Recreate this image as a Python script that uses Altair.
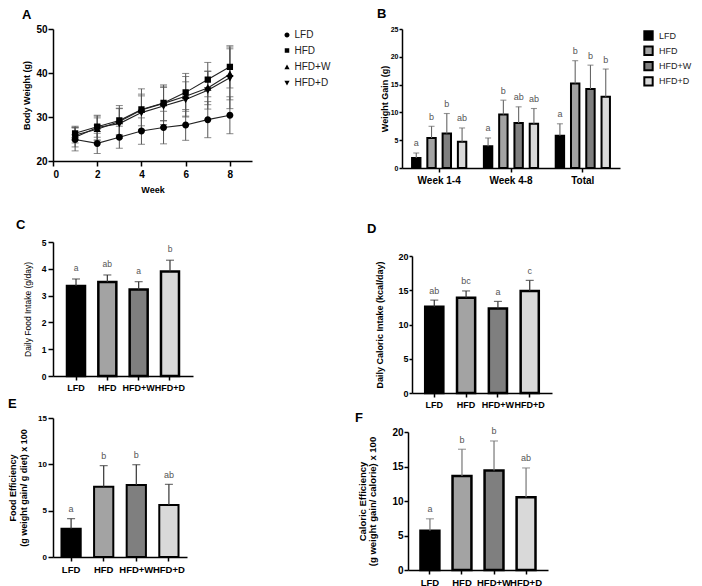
import altair as alt
import pandas as pd

FONT = "Liberation Sans"
groups = ["LFD", "HFD", "HFD+W", "HFD+D"]
fills = ["#000000", "#a3a3a3", "#7f7f7f", "#d9d9d9"]
marker_paths = [
    "M-2.2,0H2.2M-1,0A1,1,0,1,0,1,0A1,1,0,1,0,-1,0Z",
    "M-2.2,0H2.2M-0.9,-0.9H0.9V0.9H-0.9Z",
    "M-2.2,0H2.2M0,-1.1L1.05,0.8H-1.05Z",
    "M-2.2,0H2.2M0,1.1L1.05,-0.8H-1.05Z",
]

# ---------------- A: body weight by week ----------------
weeks = [1, 2, 3, 4, 5, 6, 7, 8]
bw_lfd = [24.9, 24.0, 25.4, 26.8, 27.6, 28.2, 29.4, 30.4]
bw_lfd_sd = [2.6, 2.3, 2.5, 3.0, 3.7, 3.5, 4.1, 4.2]
bw_hfd = [26.3, 27.8, 29.2, 31.7, 33.2, 35.6, 38.5, 41.4]
bw_hfd_sd = [1.6, 2.4, 3.4, 4.7, 4.1, 4.3, 3.9, 4.8]
bw_hfdw = [25.9, 27.2, 29.0, 31.6, 33.1, 34.7, 36.6, 39.7]
bw_hfdw_sd = [1.8, 2.6, 3.0, 3.6, 3.9, 4.5, 3.8, 5.8]
bw_hfdd = [25.4, 27.6, 28.5, 31.0, 32.5, 34.0, 36.1, 38.9]
bw_hfdd_sd = [2.2, 2.8, 3.4, 3.8, 4.2, 4.0, 4.3, 7.0]

# ---------------- B: weight gain ----------------
periods = ["Week 1-4", "Week 4-8", "Total"]
gain_lfd = [1.8, 3.9, 5.8]
gain_lfd_sd = [0.9, 1.5, 2.15]
gain_hfd = [5.4, 9.6, 15.2]
gain_hfd_sd = [2.1, 2.6, 4.1]
gain_hfdw = [6.2, 8.1, 14.2]
gain_hfdw_sd = [3.6, 2.9, 4.3]
gain_hfdd = [4.7, 7.95, 12.8]
gain_hfdd_sd = [2.5, 2.75, 5.0]
gain_let_lfd = ["a", "a", "a"]
gain_let_hfd = ["b", "b", "b"]
gain_let_hfdw = ["b", "ab", "b"]
gain_let_hfdd = ["ab", "ab", "b"]

# ---------------- C-F ----------------
food_intake = [3.36, 3.51, 3.23, 3.90]
food_intake_sd = [0.26, 0.26, 0.29, 0.42]
food_intake_let = ["a", "ab", "a", "b"]

cal_intake = [12.6, 13.9, 12.34, 14.88]
cal_intake_sd = [0.96, 1.0, 1.03, 1.56]
cal_intake_let = ["ab", "bc", "a", "c"]

food_eff = [3.06, 7.59, 7.77, 5.61]
food_eff_sd = [1.08, 2.27, 2.19, 2.23]
food_eff_let = ["a", "b", "b", "ab"]

cal_eff = [5.69, 13.64, 14.41, 10.55]
cal_eff_sd = [1.73, 3.86, 4.29, 4.24]
cal_eff_let = ["a", "b", "b", "ab"]


def letter(t, dx, offset, lead=0):
    kw = {}
    text = t
    if lead:
        text = ["", t]
        kw["lineHeight"] = lead
    return alt.TitleParams(text=text, anchor="start", frame="group", dx=dx, offset=offset,
                           fontSize=13, font=FONT, fontWeight="bold", color="black", **kw)


# ---------------- Panel A ----------------
dfA = pd.DataFrame({
    "week": weeks * 4,
    "group": [g for g in groups for _ in weeks],
    "bw": bw_lfd + bw_hfd + bw_hfdw + bw_hfdd,
    "sd": bw_lfd_sd + bw_hfd_sd + bw_hfdw_sd + bw_hfdd_sd,
})
dfA["lo"] = dfA["bw"] - dfA["sd"]
dfA["hi"] = dfA["bw"] + dfA["sd"]

xA = alt.X("week:Q", scale=alt.Scale(domain=[0, 9], nice=False, zero=False),
           axis=alt.Axis(values=[0, 2, 4, 6, 8], title="Week", tickSize=5, labelPadding=3,
                         labelFontSize=10, titleFontSize=9, titlePadding=6))
ysA = alt.Scale(domain=[20, 50], nice=False, zero=False)
yaxA = alt.Axis(values=[20, 30, 40, 50], title="Body Weight (g)",
                tickSize=5, labelPadding=1, labelFontSize=10, titleFontSize=9, titlePadding=4.4)


def yA(f):
    return alt.Y(f + ":Q", scale=ysA, axis=yaxA)


baseA = alt.Chart(dfA)
errA = baseA.mark_rule(color="#555", strokeWidth=1).encode(x=xA, y=yA("lo"), y2="hi:Q", detail="group:N")
capLoA = baseA.mark_tick(orient="horizontal", size=7, thickness=1, color="#555").encode(x=xA, y=yA("lo"), detail="group:N")
capHiA = baseA.mark_tick(orient="horizontal", size=7, thickness=1, color="#555").encode(x=xA, y=yA("hi"), detail="group:N")
lineA = baseA.mark_line(color="#222", strokeWidth=1.1).encode(x=xA, y=yA("bw"), detail="group:N")
ptsA = baseA.mark_point(filled=True, color="black", size=49, opacity=1).encode(
    x=xA, y=yA("bw"),
    shape=alt.Shape("group:N", scale=alt.Scale(domain=groups, range=marker_paths),
                    legend=alt.Legend(title=None, orient="right", offset=29, padding=1,
                                      symbolSize=25, symbolStrokeColor="black", symbolStrokeWidth=1.2,
                                      symbolFillColor="black", labelFont=FONT, labelFontSize=10,
                                      labelColor="#222", labelOffset=2.5, rowPadding=5.6)),
    strokeWidth=alt.value(0),
)
panelA = alt.layer(errA, capLoA, capHiA, lineA, ptsA).properties(
    width=199, height=132, title=letter("A", -31, 2.1))

# ---------------- Panel B ----------------
dfB = pd.DataFrame({
    "period": periods * 4,
    "group": [g for g in groups for _ in periods],
    "val": gain_lfd + gain_hfd + gain_hfdw + gain_hfdd,
    "sd": gain_lfd_sd + gain_hfd_sd + gain_hfdw_sd + gain_hfdd_sd,
    "let": gain_let_lfd + gain_let_hfd + gain_let_hfdw + gain_let_hfdd,
})
dfB["hi"] = dfB["val"] + dfB["sd"]
xB = alt.X("period:N", scale=alt.Scale(domain=periods, paddingInner=0.245, paddingOuter=0.14),
           axis=alt.Axis(title=None, labelAngle=0, labelFontSize=10, tickSize=4, labelPadding=3))
xoB = alt.XOffset("group:N", scale=alt.Scale(domain=groups, paddingInner=0.45, paddingOuter=0))
ysB = alt.Scale(domain=[0, 25], nice=False)
yaxB = alt.Axis(values=[0, 5, 10, 15, 20, 25], title=["", "Weight Gain (g)"], titleLineHeight=25.7,
                tickSize=3, labelPadding=1, labelFontSize=7, titleFontSize=9, titlePadding=0.5)


def yB(f):
    return alt.Y(f + ":Q", scale=ysB, axis=yaxB)


baseB = alt.Chart(dfB)
barsB = baseB.mark_bar(stroke="black", strokeWidth=2).encode(
    x=xB, xOffset=xoB, y=yB("val"),
    fill=alt.Fill("group:N", scale=alt.Scale(domain=groups, range=fills),
                  legend=alt.Legend(title=None, orient="right", offset=21.6, padding=1,
                                    symbolType="square", symbolSize=70, symbolStrokeColor="black",
                                    symbolStrokeWidth=2, labelFont=FONT, labelFontSize=9,
                                    labelColor="#222", labelOffset=5.1, rowPadding=-1.7)))
errB = baseB.mark_rule(color="#666", strokeWidth=1.1).encode(x=xB, xOffset=xoB, y=yB("val"), y2="hi:Q")
capB = baseB.mark_tick(orient="horizontal", size=6, thickness=1.1, color="#666").encode(x=xB, xOffset=xoB, y=yB("hi"))
txtB = baseB.mark_text(dy=-6.5, fontSize=9, font=FONT, color="#555", baseline="alphabetic").encode(
    x=xB, xOffset=xoB, y=yB("hi"), text="let:N")
panelB = alt.layer(barsB, errB, capB, txtB).properties(
    width=218, height=139, title=letter("B", -25, 3.6))


# ---------------- simple bar panels ----------------
def bar_panel(vals, sds, lets, ytitle, ydom, yticks, w, h, pi, po, ttl, ylab_size=9,
              ytitle_size=9, ytitle_weight="bold", ytitle_lh=0, ytick=5, ylabpad=2,
              ytitlepad=5, xlab_size=9, stroke_w=2.5, err_color="#333", text_size=9,
              text_dy=-6.5):
    df = pd.DataFrame({"group": groups, "val": vals, "sd": sds, "let": lets})
    df["hi"] = df["val"] + df["sd"]
    x = alt.X("group:N", scale=alt.Scale(domain=groups, paddingInner=pi, paddingOuter=po),
              axis=alt.Axis(title=None, labelAngle=0, labelFontSize=xlab_size, tickSize=4,
                            labelPadding=3))
    akw = dict(values=yticks, title=ytitle, tickSize=ytick, labelPadding=ylabpad,
               labelFontSize=ylab_size, titleFontSize=ytitle_size,
               titleFontWeight=ytitle_weight, titlePadding=ytitlepad)
    if ytitle_lh:
        akw["titleLineHeight"] = ytitle_lh
    yax = alt.Axis(**akw)
    ysc = alt.Scale(domain=ydom, nice=False)

    def Y(f):
        return alt.Y(f + ":Q", scale=ysc, axis=yax)

    base = alt.Chart(df)
    bars = base.mark_bar(stroke="black", strokeWidth=stroke_w).encode(
        x=x, y=Y("val"),
        fill=alt.Fill("group:N", scale=alt.Scale(domain=groups, range=fills), legend=None))
    rule = base.mark_rule(color=err_color, strokeWidth=1.2).encode(x=x, y=Y("val"), y2="hi:Q")
    cap = base.mark_tick(orient="horizontal", size=8, thickness=1.2, color=err_color).encode(x=x, y=Y("hi"))
    txt = base.mark_text(dy=text_dy, fontSize=text_size, font=FONT, color="#555",
                         baseline="alphabetic").encode(x=x, y=Y("hi"), text="let:N")
    return alt.layer(bars, rule, cap, txt).properties(width=w, height=h, title=ttl)


panelC = bar_panel(food_intake, food_intake_sd, food_intake_let,
                   "Daily Food Intake (g/day)", [0, 5], [0, 1, 2, 3, 4, 5],
                   140, 134, 0.425, 0.447, letter("C", -37, 5.8, lead=23),
                   ylab_size=8.5, ytitle_size=8.5, ytitle_weight="normal",
                   ytick=5, ylabpad=2, ytitlepad=8.8, xlab_size=9, text_size=8.5, text_dy=-8)

panelD = bar_panel(cal_intake, cal_intake_sd, cal_intake_let,
                   ["", "Daily Caloric Intake (kcal/day)"], [0, 20], [0, 5, 10, 15, 20],
                   140, 137, 0.43, 0.415, letter("D", -45, 15.6, lead=27),
                   ylab_size=9, ytitle_size=9, ytitle_lh=19.5, ytick=3, ylabpad=1,
                   ytitlepad=13.5, xlab_size=9)

panelE = bar_panel(food_eff, food_eff_sd, food_eff_let,
                   ["Food Efficiency", "(g weight gain/ g diet) x 100"], [0, 15], [0, 5, 10, 15],
                   134, 139, 0.41, 0.26, letter("E", -45, 3.1),
                   ylab_size=8, ytitle_size=9, ytitle_lh=11, ytick=5, ylabpad=1.5,
                   ytitlepad=9.4, xlab_size=9.5, stroke_w=2)

panelF = bar_panel(cal_eff, cal_eff_sd, cal_eff_let,
                   ["Caloric Efficiency", "(g weight gain/ calorie) x 100"], [0, 20], [0, 5, 10, 15, 20],
                   140, 138, 0.41, 0.39, letter("F", -53, 2.1),
                   ylab_size=10, ytitle_size=9.5, ytitle_lh=10, ytick=4, ylabpad=1,
                   ytitlepad=14.4, xlab_size=9.5, err_color="#777")

chart = alt.concat(
    panelA, panelB, panelC, panelD, panelE, panelF,
    columns=2, spacing={"row": 2, "column": 23}, align="none"
).resolve_scale(fill="independent", shape="independent").properties(
    padding=0
).configure_view(stroke=None).configure_axis(
    grid=False, domainColor="black", domainWidth=1.5, tickColor="black", tickWidth=1.5,
    labelColor="black", titleColor="black", labelFont=FONT, titleFont=FONT,
    labelFontWeight="bold", titleFontWeight="bold"
)

chart.save("out.html", embed_options={"renderer": "svg", "actions": False})
